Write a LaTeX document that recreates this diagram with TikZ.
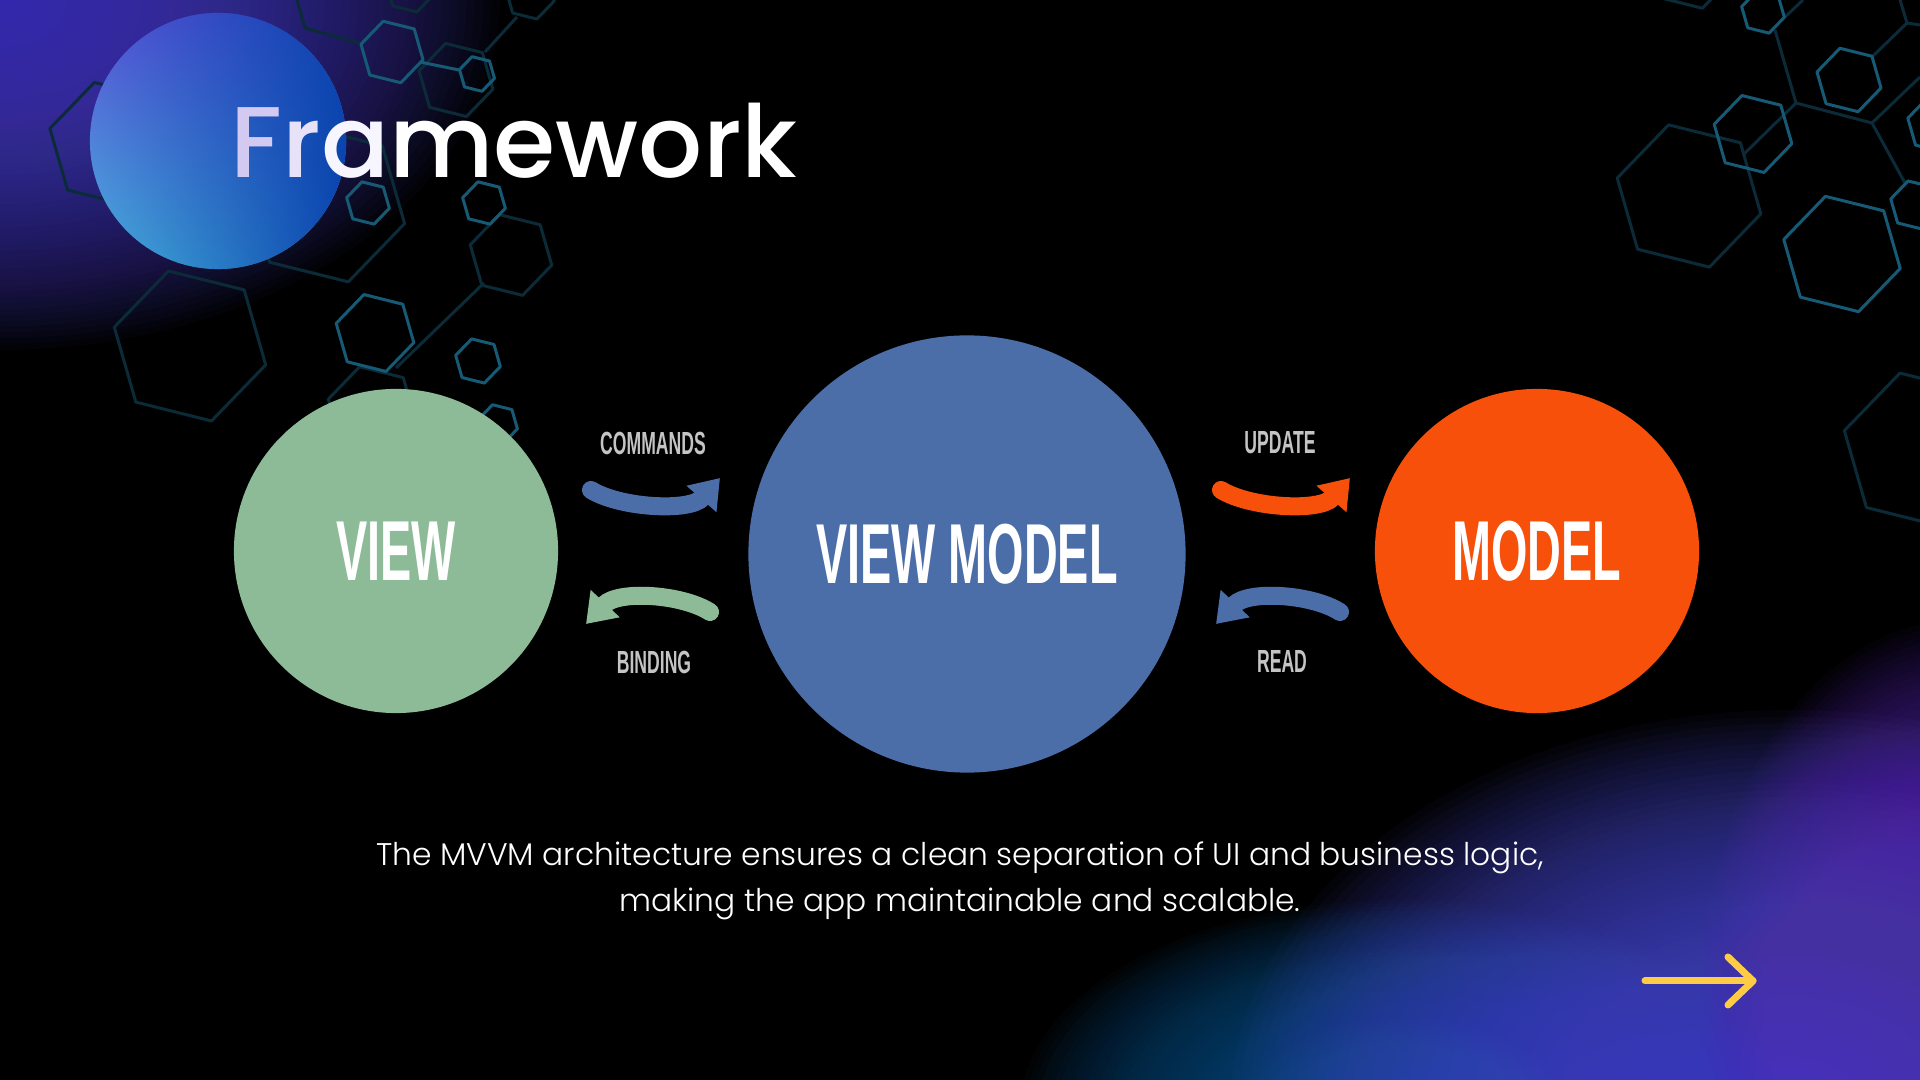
\documentclass[tikz,border=0pt]{standalone}
\usepackage{fontspec}
\setmainfont{Poppins Light}
\newfontfamily\titlefont{Poppins Medium}
\newfontfamily\condfont[FakeStretch=0.55]{Liberation Sans}
\usetikzlibrary{arrows.meta,fadings}

\definecolor{bgblack}{HTML}{000000}
\definecolor{glowTL}{HTML}{4F44D2}
\definecolor{glowBRa}{HTML}{4C4ED6}
\definecolor{glowBRb}{HTML}{5C30B8}
\definecolor{glowBRc}{HTML}{1A5890}
\definecolor{hexbright}{HTML}{175A76}
\definecolor{hexdim}{HTML}{0C2B39}
\definecolor{circtop}{HTML}{5A52D8}
\definecolor{circbot}{HTML}{48B4DC}
\definecolor{circright}{HTML}{0A44AE}
\definecolor{tF}{HTML}{D3CAF2}
\definecolor{tR}{HTML}{E8E2F9}
\definecolor{tA}{HTML}{F7F5FE}
\definecolor{viewgreen}{HTML}{8DBB98}
\definecolor{vmblue}{HTML}{4B6EA9}
\definecolor{modelorange}{HTML}{F6500B}
\definecolor{labelgray}{HTML}{C4C4C4}
\definecolor{arrowyellow}{HTML}{FECB45}

\tikzfading[name=fadetoright, left color=transparent!100, right color=transparent!0]

% soft glow: stacked translucent ellipses, centre (#1,#2), radii #3 x #4, step opacity #6
\newcommand{\softglow}[6]{%
  \foreach \k in {1,...,60}{%
    \fill[#5, fill opacity=#6, shift={(#1,#2)}] (0,0) ellipse ({#3/60*\k} and {#4/60*\k});
  }}

\newcommand{\hexshape}[4]{%
  \draw[#4, shift={(#1,#2)}] (14:#3) -- (74:#3) -- (134:#3) -- (194:#3) -- (254:#3) -- (314:#3) -- cycle;}

\tikzset{
  hexb/.style={draw=hexbright, line width=0.03cm, line join=round},
  hexd/.style={draw=hexdim, line width=0.03cm, line join=round},
  bigcircle/.style={circle, inner sep=0pt, text=white, font=\condfont\bfseries\fontsize{24.2}{28}\selectfont},
  flowlabel/.style={inner sep=0pt, text=labelgray, font=\condfont\bfseries\fontsize{9.1}{11}\selectfont},
  flowarrow/.style={line width=0.18cm, line cap=round, -{Triangle[length=0.28cm, width=0.38cm]}},
  desc/.style={inner sep=0pt, text=white, font=\fontsize{8.9}{11}\selectfont},
  nextarrow/.style={draw=arrowyellow, line width=0.07cm, line cap=round, line join=round}
}

\begin{document}
\begin{tikzpicture}[x=0.01cm, y=-0.01cm]
\useasboundingbox (0,0) rectangle (1920,1080);
\fill[bgblack] (0,0) rectangle (1920,1080);

% corner glows
\softglow{0}{0}{500}{350}{glowTL}{0.035}
\softglow{1400}{1110}{380}{210}{glowBRc}{0.04}
\softglow{1790}{1110}{560}{400}{glowBRa}{0.045}
\softglow{1960}{1000}{260}{380}{glowBRb}{0.045}

% honeycomb, left cluster
\hexshape{112}{144}{64}{hexd}
\hexshape{190}{346}{78}{hexd}
\hexshape{326}{204}{81}{hexd}
\hexshape{511}{255}{42}{hexd}
\hexshape{456}{80}{38}{hexd}
\hexshape{530}{-5}{25}{hexd}
\hexshape{410}{-12}{25}{hexd}
\hexshape{372}{410}{45}{hexd}
\draw[hexd] (484,283) -- (396,368);
\draw[hexd] (359,43) -- (305,28) -- (297,0);
\draw[hexd] (485,52) -- (517,17);
\hexshape{392}{52}{32}{hexb}
\hexshape{477}{74}{18}{hexb}
\hexshape{368}{203}{22}{hexb}
\hexshape{484}{203}{22}{hexb}
\hexshape{375}{333}{40}{hexb}
\hexshape{478}{361}{23}{hexb}
\hexshape{498}{424}{20}{hexb}
\draw[hexb] (420,62) -- (459,70);

% honeycomb, right cluster
\hexshape{1689}{196}{74}{hexd}
\hexshape{1690}{-35}{45}{hexd}
\hexshape{1922}{450}{80}{hexd}
\draw[hexd] (1775,30) -- (1796,103) -- (1872,123) -- (1905,183);
\draw[hexd] (1796,103) -- (1743,155);
\draw[hexd] (1872,123) -- (1920,77);
\draw[hexd] (1872,57) -- (1907,23) -- (1900,0);
\draw[hexd] (1907,23) -- (1920,25);
\draw[hexd] (1785,17) -- (1803,0);
\hexshape{1763}{12}{22}{hexb}
\hexshape{1849}{80}{33}{hexb}
\hexshape{1753}{134}{40}{hexb}
\hexshape{1842}{254}{60}{hexb}
\hexshape{1915}{205}{25}{hexb}
\hexshape{1935}{125}{28}{hexb}

% title badge
\coordinate (badge) at (218,141);
\shade[top color=circtop, bottom color=circbot] (badge) circle (1.28cm);
\fill[circright, path fading=fadetoright] (badge) circle (1.28cm);

\node[anchor=base west, inner sep=0pt, text=white, font=\titlefont\fontsize{28.6}{34}\selectfont] (title) at (230,178)
  {\textcolor{tF}{F}\textcolor{tR}{r}\textcolor{tA}{a}mework};

% MVVM diagram
\node[bigcircle, fill=viewgreen, minimum size=3.24cm] (view) at (396,551) {VIEW};
\node[bigcircle, fill=vmblue, minimum size=4.37cm] (vm) at (967,554) {VIEW MODEL};
\node[bigcircle, fill=modelorange, minimum size=3.24cm] (model) at (1537,551) {MODEL};

\node[flowlabel] (lcmd) at (653,443) {COMMANDS};
\node[flowlabel] (lbind) at (654,662) {BINDING};
\node[flowlabel] (lupd) at (1280,443) {UPDATE};
\node[flowlabel] (lread) at (1282,662) {READ};

\coordinate (cmdS) at (591,490);
\coordinate (cmdE) at (720,478);
\coordinate (bindS) at (710,612);
\coordinate (bindE) at (586,624);
\coordinate (updS) at (1221,490);
\coordinate (updE) at (1350,478);
\coordinate (readS) at (1340,612);
\coordinate (readE) at (1216,624);

\draw[flowarrow, vmblue] (cmdS) .. controls (620,508) and (690,512) .. (cmdE);
\draw[flowarrow, viewgreen] (bindS) .. controls (682,594) and (618,590) .. (bindE);
\draw[flowarrow, modelorange] (updS) .. controls (1250,508) and (1320,512) .. (updE);
\draw[flowarrow, vmblue] (readS) .. controls (1312,594) and (1248,590) .. (readE);

% description
\node[desc, anchor=base] (desc1) at (960,866) {The MVVM architecture ensures a clean separation of UI and business logic,};
\node[desc, anchor=base] (desc2) at (960,912) {making the app maintainable and scalable.};

% next-slide arrow
\coordinate (nxS) at (1645,981);
\coordinate (nxE) at (1753,981);
\coordinate (nxU) at (1728,957);
\coordinate (nxD) at (1728,1005);
\draw[nextarrow] (nxS) -- (nxE);
\draw[nextarrow] (nxU) -- (nxE) -- (nxD);
\end{tikzpicture}
\end{document}
